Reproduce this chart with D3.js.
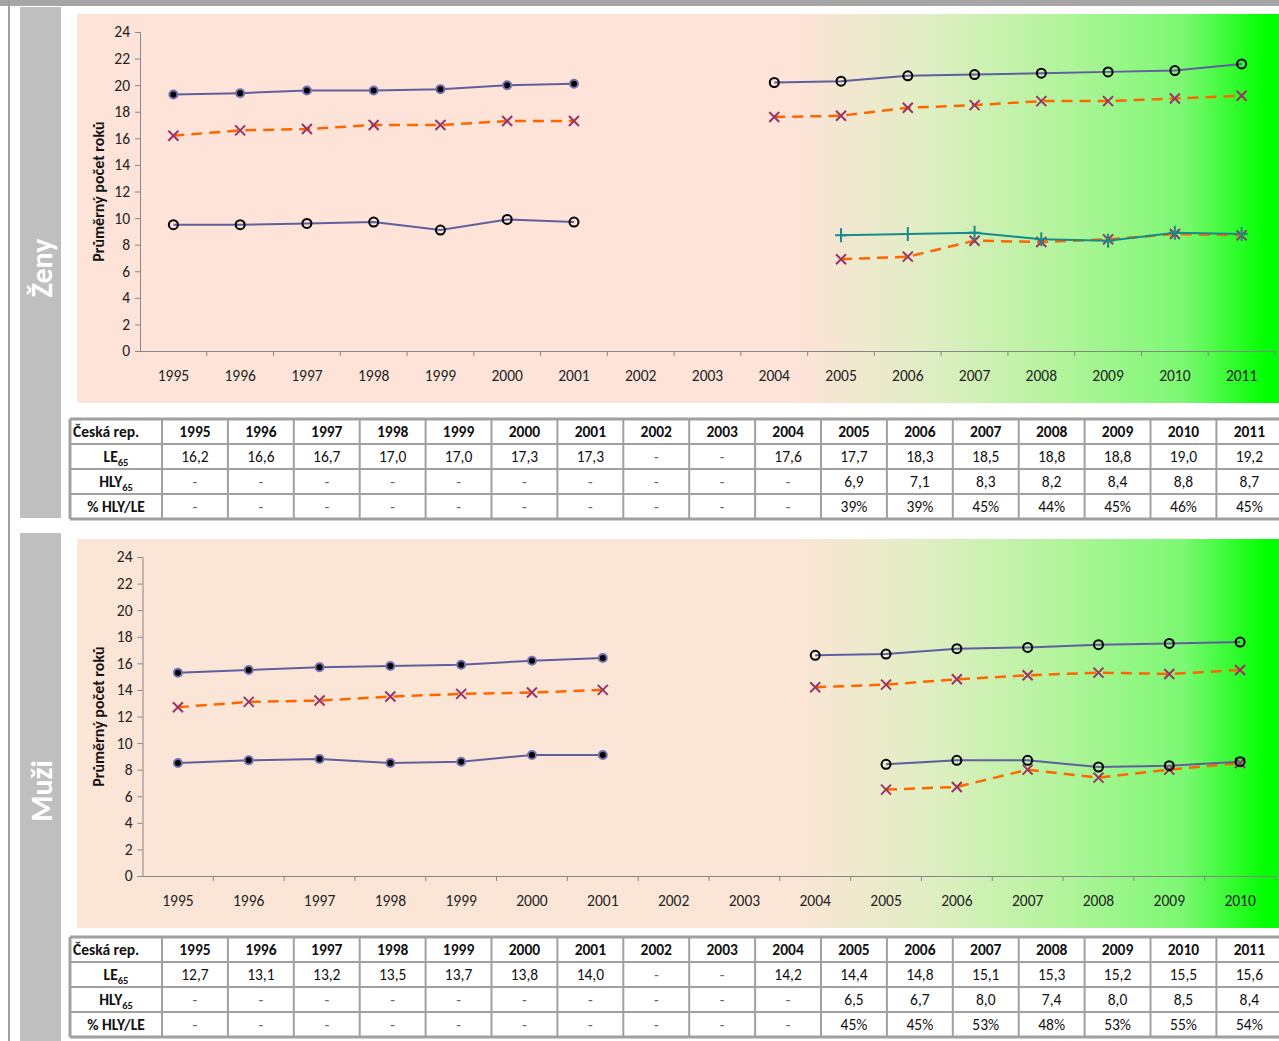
<!DOCTYPE html>
<html>
<head>
<meta charset="utf-8">
<script src="https://d3js.org/d3.v7.min.js"></script>
<style>
  body { margin: 0; background: #fff; }
  text { font-family: Carlito, Calibri, Lato, "Open Sans", sans-serif; }
</style>
</head>
<body>
<script>
// categories
var years = ["1995","1996","1997","1998","1999","2000","2001","2002","2003","2004","2005","2006","2007","2008","2009","2010","2011"];
var yTicks = [0,2,4,6,8,10,12,14,16,18,20,22,24];

// Zeny - table + chart values
var zenyLE  = [16.2,16.6,16.7,17.0,17.0,17.3,17.3,null,null,17.6,17.7,18.3,18.5,18.8,18.8,19.0,19.2];
var zenyHLY = [null,null,null,null,null,null,null,null,null,null,6.9,7.1,8.3,8.2,8.4,8.8,8.7];
var zenyPct = [null,null,null,null,null,null,null,null,null,null,39,39,45,44,45,46,45];
var zenyUpperOld = [19.3,19.4,19.6,19.6,19.7,20.0,20.1,null,null,null,null,null,null,null,null,null,null];
var zenyLowerOld = [9.5,9.5,9.6,9.7,9.1,9.9,9.7,null,null,null,null,null,null,null,null,null,null];
var zenyUpperNew = [null,null,null,null,null,null,null,null,null,20.2,20.3,20.7,20.8,20.9,21.0,21.1,21.6];
var zenyLowerNew = [null,null,null,null,null,null,null,null,null,null,8.7,8.8,8.9,8.4,8.3,8.9,8.8];

// Muzi - chart only goes to 2010, table to 2011
var muziYears = years.slice(0, 16);
var muziLE  = [12.7,13.1,13.2,13.5,13.7,13.8,14.0,null,null,14.2,14.4,14.8,15.1,15.3,15.2,15.5,15.6];
var muziHLY = [null,null,null,null,null,null,null,null,null,null,6.5,6.7,8.0,7.4,8.0,8.5,8.4];
var muziPct = [null,null,null,null,null,null,null,null,null,null,45,45,53,48,53,55,54];
var muziUpperOld = [15.3,15.5,15.7,15.8,15.9,16.2,16.4,null,null,null,null,null,null,null,null,null];
var muziLowerOld = [8.5,8.7,8.8,8.5,8.6,9.1,9.1,null,null,null,null,null,null,null,null,null];
var muziUpperNew = [null,null,null,null,null,null,null,null,null,16.6,16.7,17.1,17.2,17.4,17.5,17.6];
var muziLowerNew = [null,null,null,null,null,null,null,null,null,null,8.4,8.7,8.7,8.2,8.3,8.6];

var W = 1279, H = 1041;
var svg = d3.select("body").append("svg").attr("width", W).attr("height", H);
var defs = svg.append("defs");

// top grey band + left frame line
svg.append("rect").attr("x",0).attr("y",0).attr("width",W).attr("height",6).attr("fill","#a6a6a6");
svg.append("line").attr("x1",9).attr("x2",9).attr("y1",0).attr("y2",H).attr("stroke","#a0a0a0").attr("stroke-width",2);

var comma = function(v){ return d3.format(".1f")(v).replace(".", ","); };

function gradient(id, peach) {
  var g = defs.append("linearGradient").attr("id", id).attr("x1","0").attr("x2","1").attr("y1","0").attr("y2","0");
  g.append("stop").attr("offset","0.60").attr("stop-color",peach);
  g.append("stop").attr("offset","0.71").attr("stop-color","#e0eec3");
  g.append("stop").attr("offset","0.82").attr("stop-color","#b2f49b");
  g.append("stop").attr("offset","0.92").attr("stop-color","#7cf873");
  g.append("stop").attr("offset","0.99").attr("stop-color","#00ff00");
}
gradient("gz", "#fde3d8");
gradient("gm", "#fbe5d6");

function panel(cfg) {
  var top = cfg.top;
  // side label
  svg.append("rect").attr("x",20).attr("y",cfg.sideY0).attr("width",41).attr("height",cfg.sideY1-cfg.sideY0).attr("fill","#bfbfbf");
  svg.append("text").attr("transform","translate(52," + cfg.labelY + ") rotate(-90)")
    .attr("text-anchor","middle").attr("fill","#fff").style("font-size","30px").style("font-weight","bold")
    .text(cfg.label);

  // chart background
  svg.append("rect").attr("x",77).attr("y",top).attr("width",W-77).attr("height",389).attr("fill","url(#" + cfg.grad + ")");

  var x = d3.scaleBand().domain(cfg.years).range(cfg.xRange);
  var y = d3.scaleLinear().domain([0,24]).range([top+337, top+18]);
  var x0 = cfg.xRange[0];
  var g = svg.append("g");

  // y axis
  var ya = g.append("g").attr("transform","translate(" + x0 + ",0)")
    .call(d3.axisLeft(y).tickValues(yTicks).tickSize(5).tickPadding(5));
  ya.select(".domain").attr("stroke","#868686");
  ya.selectAll(".tick line").attr("stroke","#868686");
  ya.selectAll("text").style("font-size","15.5px").attr("fill","#222");

  // x axis
  var xa = g.append("g").attr("transform","translate(0," + y(0) + ")")
    .call(d3.axisBottom(x).tickSize(0).tickPadding(19));
  xa.select(".domain").attr("stroke","#868686");
  xa.selectAll("text").style("font-size","15.5px").attr("fill","#222");
  xa.selectAll(".bnd").data(cfg.years).enter().append("line")
    .attr("x1", function(d){ return x(d) + x.bandwidth(); }).attr("x2", function(d){ return x(d) + x.bandwidth(); })
    .attr("y1",0).attr("y2",5).attr("stroke","#868686");

  svg.append("text").attr("transform","translate(104," + ((y(0)+y(24))/2) + ") rotate(-90)")
    .attr("text-anchor","middle").style("font-size","16px").style("font-weight","bold").attr("fill","#111")
    .text("Průměrný počet roků");

  var line = d3.line()
    .defined(function(d){ return d.v != null; })
    .x(function(d){ return x(d.k) + x.bandwidth()/2; })
    .y(function(d){ return y(d.v); });

  function pts(arr) { return cfg.years.map(function(k,i){ return {k:k, v:arr[i]}; }); }

  function series(arr, color, dash, marker) {
    var p = pts(arr);
    g.append("path").attr("d", line(p)).attr("fill","none").attr("stroke",color)
      .attr("stroke-width", dash ? 2.5 : 2).attr("stroke-dasharray", dash ? "11,7" : null);
    var m = g.selectAll(null).data(p.filter(function(d){ return d.v != null; })).enter().append("g")
      .attr("transform", function(d){ return "translate(" + (x(d.k) + x.bandwidth()/2) + "," + y(d.v) + ")"; });
    if (marker === "x") {
      m.append("path").attr("d","M-5,-5L5,5M5,-5L-5,5").attr("stroke","#993366").attr("stroke-width",2).attr("fill","none");
    } else if (marker === "dot") {
      m.append("circle").attr("r",4).attr("fill","#000").attr("stroke","#7272b0").attr("stroke-width",2);
    } else if (marker === "ring") {
      m.append("circle").attr("r",4.5).attr("fill","none").attr("stroke","#000").attr("stroke-width",2);
    } else if (marker === "plus") {
      m.append("path").attr("d","M-6,0L6,0M0,-7L0,7").attr("stroke","#178a8a").attr("stroke-width",2).attr("fill","none");
    }
  }

  var le = cfg.le.slice(0, cfg.years.length), hly = cfg.hly.slice(0, cfg.years.length);
  series(le, "#ff6600", true, "x");
  series(hly, "#ff6600", true, "x");
  series(cfg.upperOld, "#5f5f9e", false, "dot");
  series(cfg.lowerOld, "#5f5f9e", false, cfg.lowerOldMarker);
  series(cfg.upperNew, "#5f5f9e", false, "ring");
  series(cfg.lowerNew, cfg.lowerNewColor, false, cfg.lowerNewMarker);

  // table
  var ty = cfg.tableY, rh = 25, c0 = 70, c1 = 162, cw = 65.9;
  var t = svg.append("g");
  var rows = [
    { label: "Česká rep.", vals: years, bold: true, left: true },
    { label: "LE", sub: "65", vals: cfg.le.map(function(v){ return v == null ? "-" : comma(v); }) },
    { label: "HLY", sub: "65", vals: cfg.hly.map(function(v){ return v == null ? "-" : comma(v); }) },
    { label: "% HLY/LE", vals: cfg.pct.map(function(v){ return v == null ? "-" : v + "%"; }) }
  ];
  t.append("rect").attr("x",c0).attr("y",ty).attr("width",W-c0+10).attr("height",rh*4).attr("fill","#fff");
  rows.forEach(function(r, ri) {
    var cy = ty + ri*rh + rh/2 + 5.5;
    var lt = t.append("text").attr("x", r.left ? c0+3 : (c0+c1)/2).attr("y", cy)
      .attr("text-anchor", r.left ? "start" : "middle").style("font-size","15.5px").style("font-weight","bold").attr("fill","#111")
      .text(r.label);
    if (r.sub) lt.append("tspan").attr("dy",4).style("font-size","10.5px").text(r.sub);
    t.selectAll(null).data(r.vals).enter().append("text")
      .attr("x", function(d,i){ return c1 + cw*i + cw/2; }).attr("y", cy)
      .attr("text-anchor","middle").style("font-size","15.5px")
      .style("font-weight", r.bold ? "bold" : "normal")
      .attr("fill", function(d){ return d === "-" ? "#666" : "#111"; })
      .text(function(d){ return d; });
  });
  for (var i = 0; i <= 4; i++) {
    t.append("line").attr("x1",c0).attr("x2",W+5).attr("y1",ty+i*rh).attr("y2",ty+i*rh)
      .attr("stroke","#a0a0a0").attr("stroke-width", (i === 0 || i === 4) ? 3 : 2);
  }
  t.append("line").attr("x1",c0).attr("x2",c0).attr("y1",ty).attr("y2",ty+rh*4).attr("stroke","#a0a0a0").attr("stroke-width",3);
  t.selectAll(null).data(d3.range(18)).enter().append("line")
    .attr("x1", function(i){ return c1 + cw*i; }).attr("x2", function(i){ return c1 + cw*i; })
    .attr("y1", ty).attr("y2", ty+rh*4).attr("stroke","#a0a0a0").attr("stroke-width",2);
}

panel({ top: 14, sideY0: 7, sideY1: 518, label: "Ženy", labelY: 268, grad: "gz", years: years, xRange: [140, 1275], tableY: 419,
  le: zenyLE, hly: zenyHLY, pct: zenyPct,
  upperOld: zenyUpperOld, lowerOld: zenyLowerOld, lowerOldMarker: "ring",
  upperNew: zenyUpperNew, lowerNew: zenyLowerNew, lowerNewColor: "#178a8a", lowerNewMarker: "plus" });

panel({ top: 539, sideY0: 533, sideY1: H, label: "Muži", labelY: 791, grad: "gm", years: muziYears, xRange: [142.5, 1275.5], tableY: 937,
  le: muziLE, hly: muziHLY, pct: muziPct,
  upperOld: muziUpperOld, lowerOld: muziLowerOld, lowerOldMarker: "dot",
  upperNew: muziUpperNew, lowerNew: muziLowerNew, lowerNewColor: "#5f5f9e", lowerNewMarker: "ring" });
</script>
</body>
</html>
